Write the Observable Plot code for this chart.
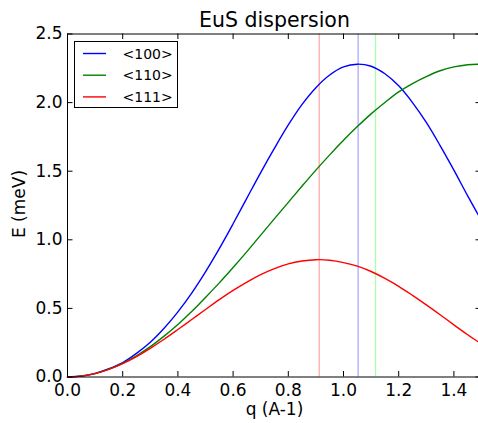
<!DOCTYPE html>
<html>
<head>
<meta charset="utf-8">
<script src="https://cdn.jsdelivr.net/npm/d3@7"></script>
<script src="https://cdn.jsdelivr.net/npm/@observablehq/plot@0.6"></script>
<style>
  html, body { margin: 0; padding: 0; background: white; }
  #chart { width: 478px; height: 423px; overflow: hidden; }
</style>
</head>
<body>
<div id="chart"></div>
<script>
// ---- data ----
const qValues = [0, 0.05, 0.1, 0.15, 0.2, 0.25, 0.3, 0.35, 0.4, 0.45, 0.5, 0.55, 0.6, 0.65, 0.7, 0.75,
                 0.8, 0.85, 0.9, 0.95, 1.0, 1.05, 1.1, 1.15, 1.2, 1.25, 1.3, 1.35, 1.4, 1.45, 1.5];
const e100 = [0, 0.007, 0.026, 0.060, 0.105, 0.172, 0.253, 0.355, 0.475, 0.612, 0.767, 0.936, 1.117, 1.304, 1.490, 1.668,
              1.837, 1.987, 2.109, 2.201, 2.260, 2.280, 2.265, 2.210, 2.122, 2.000, 1.855, 1.687, 1.508, 1.320, 1.140];
const e110 = [0, 0.006, 0.025, 0.057, 0.100, 0.155, 0.221, 0.298, 0.383, 0.477, 0.580, 0.686, 0.798, 0.914, 1.034, 1.154,
              1.273, 1.392, 1.508, 1.619, 1.725, 1.825, 1.918, 2.001, 2.078, 2.139, 2.190, 2.232, 2.260, 2.276, 2.280];
const e111 = [0, 0.006, 0.025, 0.056, 0.097, 0.149, 0.209, 0.275, 0.346, 0.419, 0.492, 0.564, 0.631, 0.692, 0.746, 0.790,
              0.824, 0.845, 0.855, 0.851, 0.834, 0.808, 0.769, 0.719, 0.661, 0.595, 0.526, 0.454, 0.380, 0.308, 0.240];
const seriesNames = ["<100>", "<110>", "<111>"];
const seriesColors = ["#0000ff", "#008000", "#ff0000"];
const zoneQ = [0.912, 1.053, 1.116];          // zone-boundary markers
const zoneColors = ["#ffabab", "#ababff", "#abffab"];
const xTicks = [0, 0.2, 0.4, 0.6, 0.8, 1.0, 1.2, 1.4];
const yTicks = [0, 0.5, 1.0, 1.5, 2.0, 2.5];
const titleText = "EuS dispersion";
const xLabel = "q (A-1)";
const yLabel = "E (meV)";

// ---- build table ----
const seriesValues = [e100, e110, e111];
const rows = [];
seriesNames.forEach((name, i) => {
  qValues.forEach((q, j) => rows.push({q, E: seriesValues[i][j], series: name}));
});
const zones = zoneQ.map((q, i) => ({q, color: zoneColors[i]}));

const plot = Plot.plot({
  width: 478,
  height: 423,
  marginLeft: 67,
  marginRight: -3,
  marginTop: 33.5,
  marginBottom: 46.5,
  x: {domain: [0, 1.5]},
  y: {domain: [0, 2.5]},
  color: {domain: seriesNames, range: seriesColors},
  style: {fontFamily: "DejaVu Sans", fontSize: "17px", color: "black", background: "white"},
  marks: [
    Plot.ruleX(zones, {x: "q", stroke: "color", strokeWidth: 1.3}),
    Plot.line(rows, {x: "q", y: "E", z: "series", stroke: "series", strokeWidth: 1.4, curve: "catmull-rom"}),
    Plot.frame({stroke: "black", strokeWidth: 1}),
    // inward ticks (bottom, top, left, right)
    Plot.tickX(xTicks, {x: d => d, insetTop: 337.5, stroke: "black"}),
    Plot.tickX(xTicks, {x: d => d, insetBottom: 337.5, stroke: "black"}),
    Plot.tickY(yTicks, {y: d => d, insetRight: 408.5, stroke: "black"}),
    Plot.tickY(yTicks, {y: d => d, insetLeft: 408.5, stroke: "black"}),
    Plot.axisX({ticks: xTicks, tickSize: 0, tickPadding: 7, tickFormat: d3.format(".1f"), label: null}),
    Plot.axisY({ticks: yTicks, tickSize: 0, tickPadding: 5, tickFormat: d3.format(".1f"), label: null})
  ]
});

document.getElementById("chart").appendChild(plot);

const svg = d3.select(plot);
// title
svg.append("text")
  .attr("x", 274.5).attr("y", 26.5)
  .attr("text-anchor", "middle")
  .style("font-family", "DejaVu Sans").style("font-size", "20.5px")
  .attr("fill", "black")
  .text(titleText);
// x label
svg.append("text")
  .attr("x", 274.5).attr("y", 415)
  .attr("text-anchor", "middle")
  .style("font-family", "DejaVu Sans").style("font-size", "17px")
  .attr("fill", "black")
  .text(xLabel);
// y label
svg.append("text")
  .attr("transform", "translate(25,204) rotate(-90)")
  .attr("text-anchor", "middle")
  .style("font-family", "DejaVu Sans").style("font-size", "17px")
  .attr("fill", "black")
  .text(yLabel);

// legend
const lg = svg.append("g");
lg.append("rect")
  .attr("x", 74.5).attr("y", 41.5).attr("width", 103).attr("height", 66)
  .attr("fill", "white").attr("stroke", "black").attr("stroke-width", 1);
seriesNames.forEach((name, i) => {
  const yy = 53.5 + i * 21.7;
  lg.append("line")
    .attr("x1", 83).attr("x2", 106).attr("y1", yy).attr("y2", yy)
    .attr("stroke", seriesColors[i]).attr("stroke-width", 1.4);
  lg.append("text")
    .attr("x", 122.5).attr("y", yy).attr("dy", "0.36em")
    .attr("text-anchor", "start")
    .style("font-family", "DejaVu Sans").style("font-size", "14px")
    .attr("fill", "black")
    .text(name);
});
</script>
</body>
</html>
